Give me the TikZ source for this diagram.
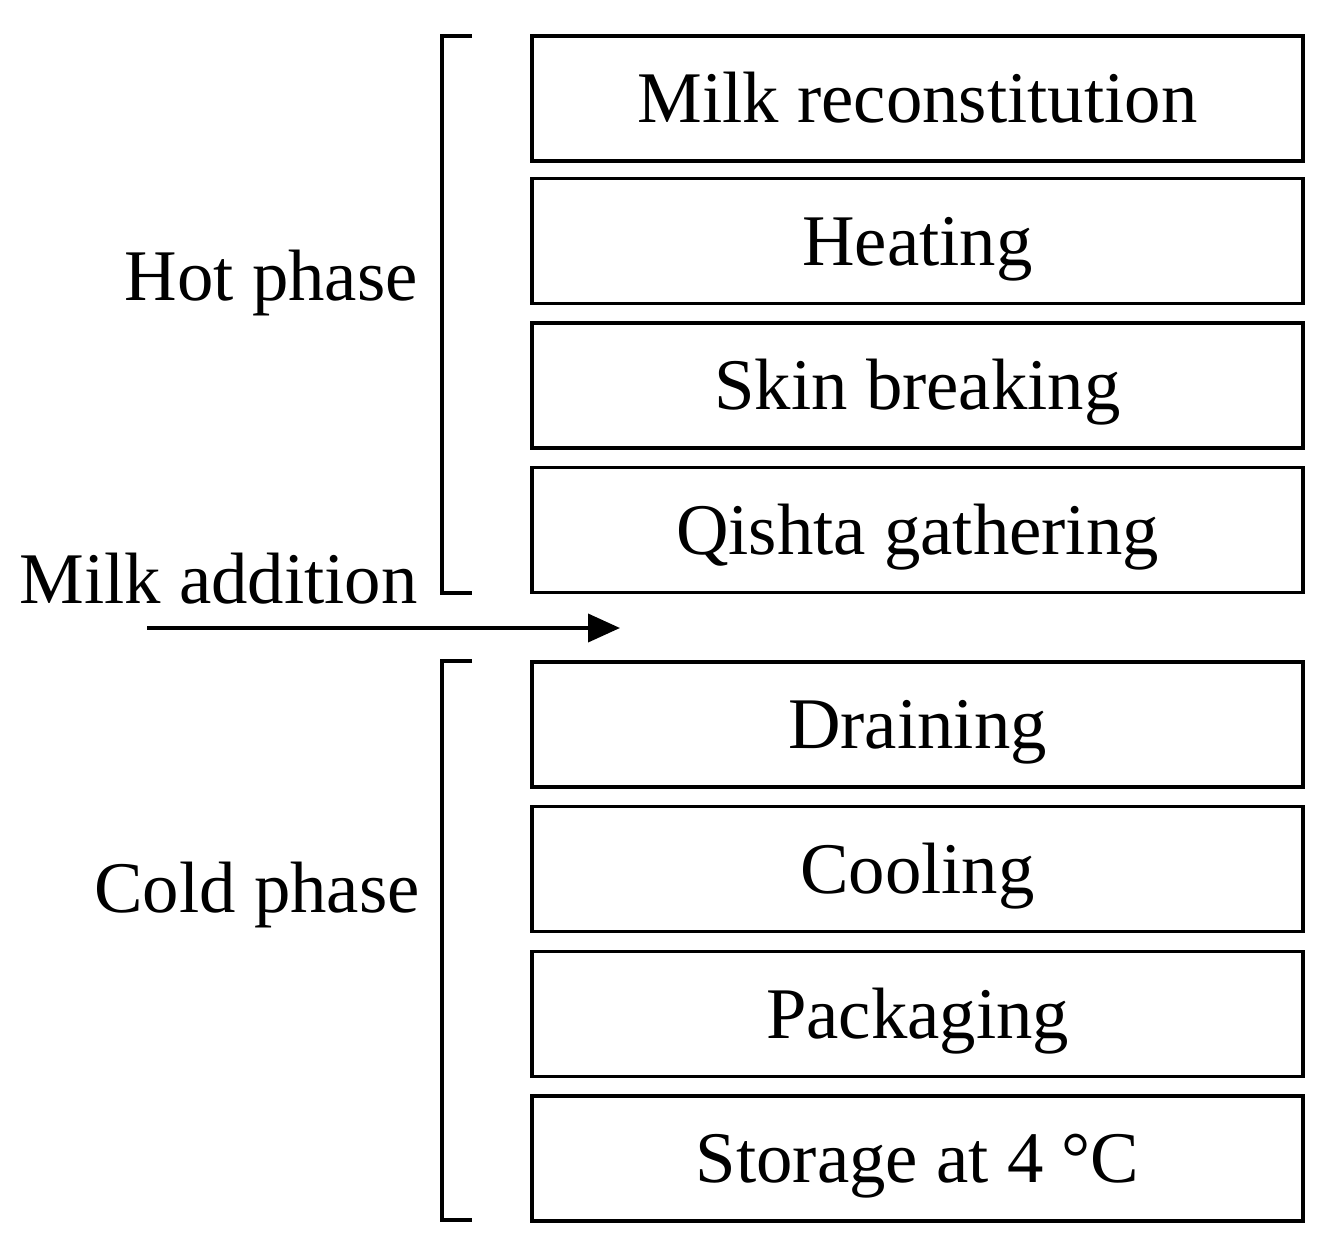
\documentclass[tikz,border=0pt]{standalone}
\usepackage{fontspec}
\setmainfont{Liberation Serif}
\usetikzlibrary{arrows.meta}
\begin{document}
\begin{tikzpicture}[x=0.02cm,y=-0.02cm,
  stepbox/.style={draw,line width=2.2pt,minimum width=15.42cm,minimum height=2.5cm,
    inner sep=0pt,text height=37.3pt,text depth=9.5pt,
    font=\fontsize{41.4}{48}\selectfont},
  lbl/.style={inner sep=0pt,font=\fontsize{41.4}{48}\selectfont},
  brk/.style={line width=2.2pt},
  conn/.style={line width=2.2pt,-{Triangle[length=0.64cm,width=0.56cm]}}]
\useasboundingbox (0,0) rectangle (1326,1241);
\node[stepbox] (b1) at (917.5,98.5) {Milk reconstitution};
\node[stepbox] (b2) at (917.5,241) {Heating};
\node[stepbox] (b3) at (917.5,385.5) {Skin breaking};
\node[stepbox] (b4) at (917.5,530) {Qishta gathering};
\node[stepbox] (b5) at (917.5,724.5) {Draining};
\node[stepbox] (b6) at (917.5,869) {Cooling};
\node[stepbox] (b7) at (917.5,1014) {Packaging};
\node[stepbox] (b8) at (917.5,1158.5) {Storage at 4 °C};
\node[lbl,anchor=base east] (hot) at (418,300) {Hot phase};
\node[lbl,anchor=base east] (milk) at (418,603) {Milk addition};
\node[lbl,anchor=base east] (cold) at (420,912) {Cold phase};
\draw[brk] (472,36) -- (442,36) -- (442,593) -- (472,593);
\draw[brk] (472,661) -- (442,661) -- (442,1220) -- (472,1220);
\coordinate (a0) at (147,628);
\coordinate (a1) at (620,628);
\draw[conn] (a0) -- (a1);
\end{tikzpicture}
\end{document}
